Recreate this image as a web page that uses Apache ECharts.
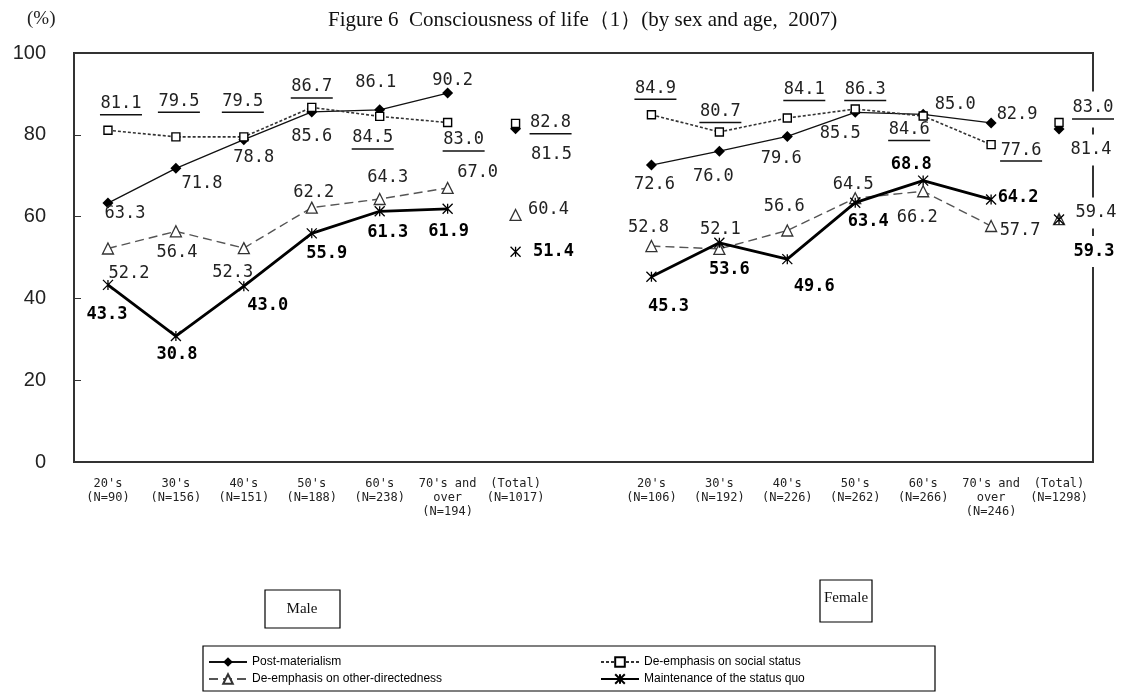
<!DOCTYPE html>
<html><head><meta charset="utf-8">
<script src="https://cdn.jsdelivr.net/npm/echarts@6/dist/echarts.min.js"></script>
<style>html,body{margin:0;padding:0;background:#fff}#c{width:1126px;height:693px}</style>
</head><body><div id="c"></div>
<script>
// ---- data ----
const categories = ["20's\n(N=90)", "30's\n(N=156)", "40's\n(N=151)", "50's\n(N=188)", "60's\n(N=238)", "70's and\nover\n(N=194)", "(Total)\n(N=1017)", "",
  "20's\n(N=106)", "30's\n(N=192)", "40's\n(N=226)", "50's\n(N=262)", "60's\n(N=266)", "70's and\nover\n(N=246)", "(Total)\n(N=1298)"];
const seriesNames = ["Post-materialism", "De-emphasis on social status", "De-emphasis on other-directedness", "Maintenance of the status quo"];

const malePostMat = [63.3, 71.8, 78.8, 85.6, 86.1, 90.2];
const maleSocial  = [81.1, 79.5, 79.5, 86.7, 84.5, 83.0];
const maleOther   = [52.2, 56.4, 52.3, 62.2, 64.3, 67.0];
const maleQuo     = [43.3, 30.8, 43.0, 55.9, 61.3, 61.9];
const maleTotals  = [81.5, 82.8, 60.4, 51.4]; // postmat, social, other, quo

const femalePostMat = [72.6, 76.0, 79.6, 85.5, 85.0, 82.9];
const femaleSocial  = [84.9, 80.7, 84.1, 86.3, 84.6, 77.6];
const femaleOther   = [52.8, 52.1, 56.6, 64.5, 66.2, 57.7];
const femaleQuo     = [45.3, 53.6, 49.6, 63.4, 68.8, 64.2];
const femaleTotals  = [81.4, 83.0, 59.4, 59.3];

// ---- label placement (pixel offsets from each marker), layout only ----
const postMatOffsets = [[17,10],[26,15],[10,18],[0,25],[-4,-27],[5,-13],[36,26],null,[3,20],[-6,25],[-6,22],[-15,21],[32,-10],[26,-8],[32,21]];
const socialOffsets  = [[13,-27],[3,-36],[-1,-36],[0,-21],[-7,21],[16,17],[35,-1],null,[4,-27],[1,-21],[17,-29],[10,-20],[-14,13],[30,5],[34,-15]];
const otherOffsets   = [[21,25],[1,21],[-11,24],[2,-15],[8,-21],[30,-15],[33,-5],null,[-3,-18],[1,-19],[-3,-24],[-2,-14],[-6,26],[29,5],[37,-6]];
const quoOffsets     = [[-1,30],[1,19],[24,19],[15,20],[8,21],[1,23],[38,0],null,[17,30],[10,27],[27,27],[13,19],[-12,-16],[27,-2],[35,32]];

const MONO = "'DejaVu Sans Mono', monospace";

function lineValues(m, f) { return m.concat([null, null], f, [null]); }
function totalValues(k) {
  const a = new Array(15).fill(null);
  a[6] = maleTotals[k]; a[14] = femaleTotals[k];
  return a;
}
function withLabels(values, offsets, extraY) {
  return values.map((v, i) => {
    if (v === null) return null;
    const o = offsets[i];
    const item = { value: v, label: { offset: [o[0], o[1] + (extraY || 0)] } };
    if (i === 14) { item.label.backgroundColor = '#fff'; item.label.padding = [7, 3]; }
    return item;
  });
}

const styles = [
  { symbol: 'diamond', symbolSize: 11, itemStyle: { color: '#000', borderColor: '#000', borderWidth: 0 },
    lineStyle: { color: '#111', width: 1.3, type: 'solid' } },
  { symbol: 'rect', symbolSize: 8, itemStyle: { color: '#fff', borderColor: '#000', borderWidth: 1.4 },
    lineStyle: { color: '#333', width: 1.6, type: [3, 2] } },
  { symbol: 'triangle', symbolSize: 11, itemStyle: { color: '#fff', borderColor: '#333', borderWidth: 1.3 },
    lineStyle: { color: '#555', width: 1.4, type: [9, 5] } },
  { symbol: 'path://M0 0L10 10M10 0L0 10M5 0L5 10', symbolSize: 10, itemStyle: { color: 'rgba(0,0,0,0)', borderColor: '#000', borderWidth: 1.3 },
    lineStyle: { color: '#000', width: 2.8, type: 'solid' } }
];
const plainLabel = { show: true, position: 'inside', fontFamily: MONO, fontSize: 17, color: '#222',
  formatter: p => Number(p.value).toFixed(1) };
const boldLabel = Object.assign({}, plainLabel, { fontWeight: 'bold', color: '#000' });
const underLabel = { show: true, position: 'inside',
  formatter: p => '{t|' + Number(p.value).toFixed(1) + '}\n{u| }',
  rich: { t: { fontFamily: MONO, fontSize: 17, color: '#222', lineHeight: 19 },
          u: { width: 42, height: 1.5, backgroundColor: '#111', fontSize: 1, lineHeight: 3 } } };
const labels = [plainLabel, underLabel, plainLabel, boldLabel];
const lineData = [lineValues(malePostMat, femalePostMat), lineValues(maleSocial, femaleSocial),
                  lineValues(maleOther, femaleOther), lineValues(maleQuo, femaleQuo)];
const offsets = [postMatOffsets, socialOffsets, otherOffsets, quoOffsets];

const series = [];
for (let k = 0; k < 4; k++) {
  const base = {
    name: seriesNames[k], type: 'line', showAllSymbol: true, connectNulls: false,
    symbol: styles[k].symbol, symbolSize: styles[k].symbolSize,
    itemStyle: styles[k].itemStyle, lineStyle: styles[k].lineStyle,
    label: labels[k], emphasis: { disabled: true }, z: 3 + k
  };
  series.push(Object.assign({}, base, { data: withLabels(lineData[k], offsets[k], k === 1 ? 2 : 0) }));
  series.push(Object.assign({}, base, { data: withLabels(totalValues(k), offsets[k], k === 1 ? 2 : 0),
    lineStyle: Object.assign({}, styles[k].lineStyle, { width: 0 }) }));
}

const legendText = { fontFamily: "'Liberation Sans', sans-serif", fontSize: 12, color: '#000' };
const legendBase = { orient: 'vertical', top: 656, itemGap: 5, padding: 0, height: 40,
  itemWidth: 38, itemHeight: 12, textStyle: legendText, selectedMode: false };
const option = {
  animation: false,
  title: { text: 'Figure 6  Consciousness of life（1）(by sex and age,  2007)', left: 323, top: 5,
    textStyle: { fontFamily: "'Liberation Serif', serif", fontSize: 21, fontWeight: 'normal', color: '#111' } },
  grid: { left: 74, right: 33, top: 53, bottom: 231, show: true, borderColor: '#333', borderWidth: 2 },
  xAxis: { type: 'category', data: categories, boundaryGap: true,
    axisLine: { show: true, lineStyle: { color: '#333', width: 2 } }, axisTick: { show: false },
    axisLabel: { interval: 0, fontFamily: MONO, fontSize: 12, lineHeight: 14, color: '#222', margin: 15 } },
  yAxis: { type: 'value', min: 0, max: 100, interval: 20,
    axisLine: { show: true, lineStyle: { color: '#333', width: 2 } },
    axisTick: { show: true, inside: true, length: 7, lineStyle: { color: '#333' } },
    splitLine: { show: false },
    axisLabel: { fontFamily: "'Liberation Sans', sans-serif", fontSize: 20, color: '#222', margin: 28 } },
  legend: [
    Object.assign({ data: [seriesNames[0], seriesNames[2]], left: 208 }, legendBase),
    Object.assign({ data: [seriesNames[1], seriesNames[3]], left: 600 }, legendBase)
  ],
  graphic: [
    { type: 'text', left: 27, top: 10, style: { text: '(%)', font: "19px 'Liberation Serif', serif", fill: '#222' } },
    { type: 'rect', shape: { x: 203, y: 646, width: 732, height: 45 }, style: { fill: 'none', stroke: '#000', lineWidth: 1.2 } },
    { type: 'rect', shape: { x: 265, y: 590, width: 75, height: 38 }, style: { fill: 'none', stroke: '#000', lineWidth: 1.2 } },
    { type: 'text', x: 302, y: 609, style: { text: 'Male', font: "15px 'Liberation Serif', serif", fill: '#111', align: 'center', verticalAlign: 'middle' } },
    { type: 'rect', shape: { x: 820, y: 580, width: 52, height: 42 }, style: { fill: 'none', stroke: '#000', lineWidth: 1.2 } },
    { type: 'text', x: 846, y: 598, style: { text: 'Female', font: "15px 'Liberation Serif', serif", fill: '#111', align: 'center', verticalAlign: 'middle' } }
  ],
  series: series
};
const chart = echarts.init(document.getElementById('c'), null, { renderer: 'canvas' });
chart.setOption(option);
</script>
</body></html>
